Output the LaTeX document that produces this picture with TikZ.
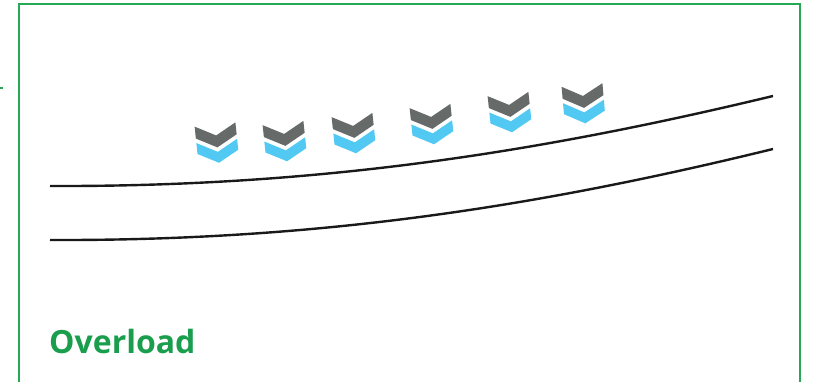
\documentclass[tikz,border=0pt]{standalone}
\usepackage{fontspec}
\newfontfamily\labelfont{Open Sans}
\definecolor{framegreen}{HTML}{27A855}
\definecolor{textgreen}{HTML}{1A9E4E}
\definecolor{chevgray}{HTML}{666B69}
\definecolor{chevblue}{HTML}{52C9F2}
\tikzset{
  framestyle/.style={draw=framegreen, line width=2.4pt},
  roadline/.style={draw=black!90, line width=2.4pt},
  grayarm/.style={fill=chevgray, draw=none},
  bluearm/.style={fill=chevblue, draw=none},
  pics/chevpair/.style={code={
    \fill[grayarm] (-20.5,0) -- (0,11) -- (20.5,0) -- (20.5,12) -- (0,23) -- (-20.5,12) -- cycle;
    \fill[bluearm] (-20.5,16.5) -- (0,27.5) -- (20.5,16.5) -- (20.5,27.5) -- (0,38.5) -- (-20.5,27.5) -- cycle;
  }}
}
\begin{document}
\begin{tikzpicture}[x=1pt,y=-1pt]
\useasboundingbox (0,0) rectangle (815,382);
% frame
\draw[framestyle] (19,390) -- (19,4.2) -- (800,4.2) -- (800,390);
\draw[draw=framegreen, line width=1.5pt] (0,88) -- (2.5,88);
% road lines
\draw[roadline] (50,186) .. controls (320,187) and (540,152) .. (773,96);
\draw[roadline] (50,240) .. controls (320,241) and (540,206) .. (773,149);
% chevrons
\pic[rotate=6] (c1) at (215,124.5) {chevpair};
\pic[rotate=6] (c2) at (283,123) {chevpair};
\pic[rotate=6] (c3) at (352,115) {chevpair};
\pic[rotate=6] (c4) at (430,106) {chevpair};
\pic[rotate=6] (c5) at (508,94) {chevpair};
\pic[rotate=5] (c6) at (582,85) {chevpair};
% label
\node[anchor=base west, inner sep=0pt, text=textgreen, font=\labelfont\bfseries\fontsize{32}{36}\selectfont] (lbl) at (49,354) {Overload};
\end{tikzpicture}
\end{document}
